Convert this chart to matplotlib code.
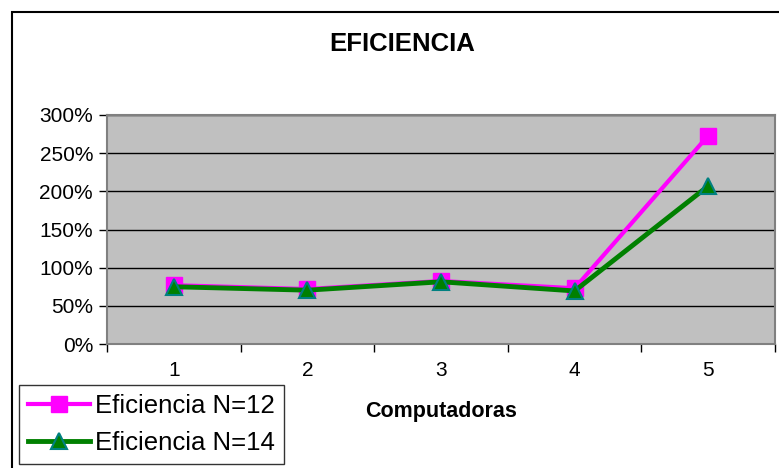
"""
EFICIENCIA chart: efficiency vs number of computers, two series (N=12, N=14).
Saves to out.png.
"""

import matplotlib
matplotlib.use("Agg")
import matplotlib.pyplot as plt
from matplotlib.patches import Rectangle
from matplotlib.ticker import FuncFormatter

plt.rcParams["font.family"] = ["Liberation Sans", "DejaVu Sans"]

computadoras = [1, 2, 3, 4, 5]
efic_n12 = [0.77, 0.72, 0.825, 0.73, 2.73]
efic_n14 = [0.75, 0.705, 0.815, 0.695, 2.07]
labels = ["Eficiencia N=12", "Eficiencia N=14"]

W, H = 779, 468
fig = plt.figure(figsize=(W / 100, H / 100), dpi=100)
ax = fig.add_axes([107 / W, 1 - 344 / H, (775 - 107) / W, (344 - 115) / H])

ax.set_facecolor("#C0C0C0")
ax.plot(computadoras, efic_n12, color="#FF00FF", linewidth=3, marker="s",
        markersize=11, markerfacecolor="#FF00FF", markeredgecolor="#FF00FF",
        label=labels[0], zorder=3)
ax.plot(computadoras, efic_n14, color="#008000", linewidth=3.5, marker="^",
        markersize=11, markerfacecolor="#008000", markeredgecolor="#008080",
        markeredgewidth=1.5, label=labels[1], zorder=4)

ax.set_xlim(0.5, 5.5)
ax.set_ylim(0, 3.0)
ax.set_yticks([0, 0.5, 1.0, 1.5, 2.0, 2.5, 3.0])
ax.yaxis.set_major_formatter(FuncFormatter(lambda v, _: f"{v * 100:.0f}%"))
ax.set_xticks(computadoras)
ax.set_xticks([0.5, 1.5, 2.5, 3.5, 4.5, 5.5], minor=True)
ax.tick_params(axis="x", which="major", length=0, labelsize=15, pad=12)
ax.tick_params(axis="x", which="minor", length=6, width=1, color="black",
               direction="out")
ax.tick_params(axis="y", length=6, width=1, direction="out", labelsize=15,
               color="black", pad=4)

ax.grid(axis="y", color="black", linewidth=1)
ax.set_axisbelow(True)
for s in ax.spines.values():
    s.set_color("#808080")
    s.set_linewidth(1.5)

fig.text(402 / W, 1 - 44 / H, "EFICIENCIA", ha="center", va="center",
         fontsize=18.5, fontweight="bold")
fig.text(441 / W, 1 - 412 / H, "Computadoras", ha="center", va="center",
         fontsize=15.5, fontweight="bold")

# outer chart frame (runs off the right and bottom edges)
fig.patches.append(Rectangle((12 / W, -0.05), 1.1, 1 - 12 / H + 0.05,
                             transform=fig.transFigure, fill=False,
                             edgecolor="black", linewidth=1.5))

leg = fig.legend(loc="lower left", bbox_to_anchor=(19 / W, 4 / H),
                 fontsize=18.5, frameon=True, fancybox=False, handlelength=2.4,
                 handletextpad=0.2, borderpad=0.35, labelspacing=0.5,
                 borderaxespad=0)
leg.get_frame().set_edgecolor("black")
leg.get_frame().set_linewidth(1)

fig.savefig("out.png", dpi=100)
